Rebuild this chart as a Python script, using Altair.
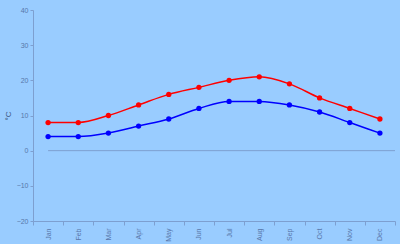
import altair as alt
import pandas as pd

months = ["Jan", "Feb", "Mar", "Apr", "May", "Jun", "Jul", "Aug", "Sep", "Oct", "Nov", "Dec"]
high = [8, 8, 10, 13, 16, 18, 20, 21, 19, 15, 12, 9]
low = [4, 4, 5, 7, 9, 12, 14, 14, 13, 11, 8, 5]
y_ticks = [-20, -10, 0, 10, 20, 30, 40]

df = pd.DataFrame({
    "month": months * 2,
    "temp": high + low,
    "series": ["High"] * 12 + ["Low"] * 12,
})

axis_col = "#7d9fd0"
label_col = "#5877aa"

x = alt.X("month:N", sort=months, title=None,
          scale=alt.Scale(paddingInner=0, paddingOuter=0),
          axis=alt.Axis(labelAngle=270, labelFontSize=7, labelColor=label_col,
                        domainColor=axis_col, tickColor=axis_col, tickBand="extent",
                        tickSize=4, labelPadding=3, grid=False))
y = alt.Y("temp:Q", title="°C",
          scale=alt.Scale(domain=[-20, 40], nice=False),
          axis=alt.Axis(values=y_ticks, labelFontSize=7, labelOverlap=False,
                        labelColor=label_col, domainColor=axis_col, tickColor=axis_col,
                        tickSize=3, grid=False, titleFontSize=8, titleColor="#3a5580",
                        titlePadding=4, titleFontWeight="normal"))
color = alt.Color("series:N", scale=alt.Scale(domain=["High", "Low"], range=["#ff0000", "#0000ff"]),
                  legend=None)

lines = alt.Chart(df).mark_line(interpolate="monotone", strokeWidth=1.5).encode(x=x, y=y, color=color)
points = alt.Chart(df).mark_point(filled=True, size=28, opacity=1).encode(x=x, y=y, color=color)

zero = alt.Chart(pd.DataFrame({"temp": [0]})).mark_rule(color=axis_col, strokeWidth=1).encode(
    y=y, x=alt.datum("Jan", bandPosition=0.5), x2=alt.value(362))

chart = alt.layer(lines, points, zero).properties(
    width=362, height=211,
    background="#99ccff",
    padding={"left": 33, "top": 10, "right": 5, "bottom": 23},
    autosize=alt.AutoSizeParams(type="none"),
).configure_view(stroke=None).configure_axis(labelFont="Liberation Sans", titleFont="Liberation Sans")

chart.save("out.html", embed_options={"renderer": "svg", "actions": False})
